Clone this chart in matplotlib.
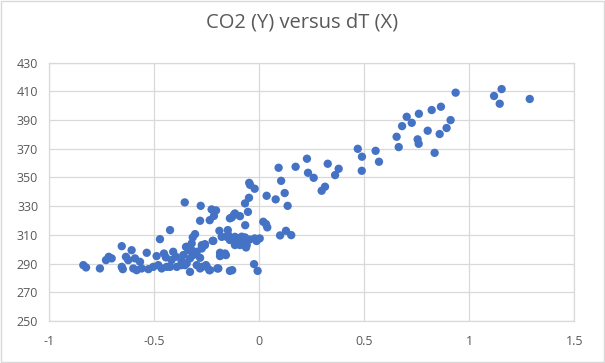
import numpy as np
import matplotlib.pyplot as plt
from matplotlib.patches import Rectangle

# dT (x) and CO2 (y)
dT = [
    0.935, 1.118, 1.154, 1.145, 1.288, 0.865, 0.821, 0.760, 0.702, 0.726,
    0.680, 0.911, 0.802, 0.892, 0.859, 0.654, 0.754, 0.759, 0.664, 0.835,
    0.469, 0.554, 0.489, 0.570, 0.488, 0.227, 0.173, 0.092, 0.232, 0.259,
    0.326, 0.378, 0.361, 0.313, 0.297, 0.104, 0.121, 0.135, 0.099, 0.127,
    0.152, -0.048, -0.044, -0.022, 0.035, 0.078, -0.049, -0.068, -0.054, -0.355,
    -0.279, -0.227, -0.206, -0.216, -0.236, -0.282, -0.131, -0.116, -0.092, -0.067,
    0.019, 0.032, 0.038, -0.190, -0.150, -0.155, -0.124, -0.105, -0.084, -0.068,
    -0.076, -0.092, -0.046, -0.022, 0.002, -0.116, -0.060, -0.013, -0.063, -0.100,
    -0.222, -0.259, -0.274, -0.306, -0.317, -0.322, -0.349, -0.338, -0.314, -0.362,
    -0.330, -0.282, -0.370, -0.354, -0.187, -0.174, -0.159, -0.025, -0.008, -0.354,
    -0.330, -0.274, -0.254, -0.238, -0.200, -0.140, -0.129, -0.425, -0.473, -0.655,
    -0.608, -0.536, -0.717, -0.703, -0.730, -0.635, -0.624, -0.592, -0.568, -0.838,
    -0.825, -0.759, -0.655, -0.650, -0.600, -0.584, -0.560, -0.528, -0.505, -0.481,
    -0.465, -0.441, -0.425, -0.393, -0.370, -0.346, -0.298, -0.282, -0.250, -0.235,
    -0.195, -0.489, -0.454, -0.445, -0.410, -0.397, -0.418, -0.346, -0.322, -0.315,
    -0.298, -0.274, -0.259, -0.219, -0.179, -0.163, -0.187, -0.148, -0.140, -0.116,
    -0.121, -0.140, -0.100,
]
co2 = [
    409.0, 406.7, 411.5, 401.3, 404.6, 399.2, 396.9, 394.3, 392.2, 388.0,
    385.7, 389.9, 382.5, 384.4, 380.2, 378.3, 376.5, 373.4, 371.1, 367.1,
    369.9, 368.5, 364.4, 360.9, 354.6, 363.0, 357.4, 356.7, 353.2, 349.7,
    359.5, 356.0, 351.6, 343.5, 340.7, 347.6, 339.1, 330.2, 309.6, 312.8,
    309.8, 346.2, 344.8, 342.1, 337.2, 334.7, 335.8, 331.9, 326.0, 332.6,
    330.2, 327.7, 327.0, 323.2, 320.2, 319.8, 322.1, 324.9, 323.0, 316.7,
    319.1, 317.5, 315.2, 312.8, 313.3, 308.6, 307.3, 307.5, 308.7, 308.2,
    305.2, 302.9, 306.7, 307.5, 307.5, 302.9, 302.9, 305.7, 301.2, 304.4,
    305.8, 303.5, 302.8, 310.5, 308.2, 304.0, 301.6, 299.3, 297.0, 295.9,
    293.6, 294.0, 291.2, 290.1, 297.5, 296.6, 295.9, 289.6, 284.9, 288.9,
    284.2, 287.7, 288.9, 285.4, 286.6, 284.9, 285.4, 313.3, 307.0, 302.1,
    299.3, 297.5, 294.7, 293.6, 292.4, 294.7, 292.4, 293.6, 291.2, 288.9,
    287.3, 286.6, 287.7, 286.1, 286.6, 285.4, 286.6, 286.1, 287.7, 288.9,
    286.6, 287.7, 287.7, 287.7, 288.9, 290.1, 288.9, 286.6, 287.7, 285.4,
    286.6, 295.2, 297.0, 294.3, 298.2, 294.7, 292.4, 301.6, 299.3, 295.9,
    298.2, 300.5, 302.8, 305.8, 308.6, 297.0, 295.2, 309.9, 306.4, 308.6,
    323.8, 321.5, 306.4,
]

x_ticks = [-1, -0.5, 0, 0.5, 1, 1.5]
y_ticks = [250, 270, 290, 310, 330, 350, 370, 390, 410, 430]

grey_text = '#595959'
grid_col = '#d9d9d9'

plt.rcParams['font.family'] = ['Open Sans', 'DejaVu Sans']

fig = plt.figure(figsize=(6.05, 3.63), dpi=100)
ax = fig.add_axes([0.0815, 0.1157, 0.8677, 0.7121])

ax.scatter(dT, co2, s=36, color='#4472C4', edgecolors='none', zorder=3)

ax.set_xlim(-1, 1.5)
ax.set_ylim(250, 430)
ax.set_xticks(x_ticks)
ax.set_xticklabels([f'{t:g}' for t in x_ticks])
ax.set_yticks(y_ticks)
ax.grid(True, color=grid_col, linewidth=0.9, zorder=0)
for sp in ax.spines.values():
    sp.set_color(grid_col)
    sp.set_linewidth(0.9)
ax.tick_params(length=0, labelsize=9, colors=grey_text, pad=8)
ax.tick_params(axis='x', pad=10)

fig.suptitle('CO2 (Y) versus dT (X)', x=0.5, y=0.965, fontsize=14.5,
             color=grey_text)

# light chart-area border
fig.patches.append(Rectangle((0.002, 0.004), 0.996, 0.992, transform=fig.transFigure,
                             fill=False, edgecolor=grid_col, linewidth=1))

fig.savefig('out.png', dpi=100)
